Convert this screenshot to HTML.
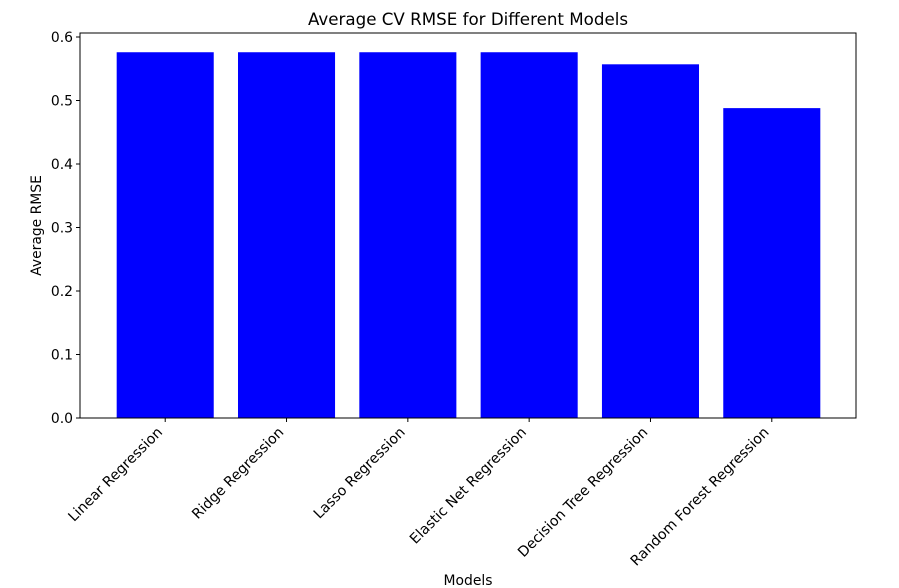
<!DOCTYPE html>
<html><head><meta charset="utf-8"><style>
body{margin:0;background:#fff;}
svg{display:block;font-family:"DejaVu Sans","Liberation Sans",sans-serif;}
</style></head><body>
<svg id="chart" width="899" height="588"></svg>
<script>
const categories=["Linear Regression","Ridge Regression","Lasso Regression","Elastic Net Regression","Decision Tree Regression","Random Forest Regression"];
const rmseValues=[0.576,0.576,0.576,0.576,0.557,0.488];
const yTicks=[0.0,0.1,0.2,0.3,0.4,0.5,0.6];
const NS="http://www.w3.org/2000/svg";
const svg=document.getElementById('chart');
const L=80,R=856,T=33,B=418;
const yMax=0.6063;
const y=v=>B-(v/yMax)*(B-T);
const xMin=-0.4-0.29,xMax=5.4+0.29;
const x=v=>L+1.5+(v-xMin)/(xMax-xMin)*(R-L-2);
function mk(tag,attrs,txt){const e=document.createElementNS(NS,tag);for(const k in attrs)e.setAttribute(k,attrs[k]);if(txt!==undefined)e.textContent=txt;svg.appendChild(e);return e;}
categories.forEach((c,i)=>{
 const r=mk('rect',{x:x(i-0.4),y:y(rmseValues[i]),width:x(i+0.4)-x(i-0.4),height:B-y(rmseValues[i]),fill:'#0000ff'});
 
 
 const t=mk('line',{x1:x(i),x2:x(i),y1:B,y2:B+4,stroke:'#000'});
 
 
 const ax=x(i)-2, ay=B+15;
 const lb=mk('text',{x:ax,y:ay,'font-size':14.2,'text-anchor':'end',transform:`rotate(-45 ${ax} ${ay})`},c);
 
 
});
yTicks.forEach(v=>{
 const t=mk('line',{x1:L-4,x2:L,y1:y(v),y2:y(v),stroke:'#000'});
 
 
 const lb=mk('text',{x:L-7,y:y(v)+5,'font-size':13.9,'text-anchor':'end'},v.toFixed(1));
 
 
});
const fr=mk('rect',{x:L,y:T,width:R-L,height:B-T,fill:'none',stroke:'#000','stroke-width':1});


const ti=mk('text',{x:(L+R)/2,y:25,'font-size':16.7,'text-anchor':'middle'},'Average CV RMSE for Different Models');


const xt=mk('text',{x:(L+R)/2,y:585,'font-size':13.9,'text-anchor':'middle'},'Models');


const yt=mk('text',{x:41,y:(T+B)/2,'font-size':13.9,'text-anchor':'middle',transform:`rotate(-90 41 ${(T+B)/2})`},'Average RMSE');


</script>
</body></html>
